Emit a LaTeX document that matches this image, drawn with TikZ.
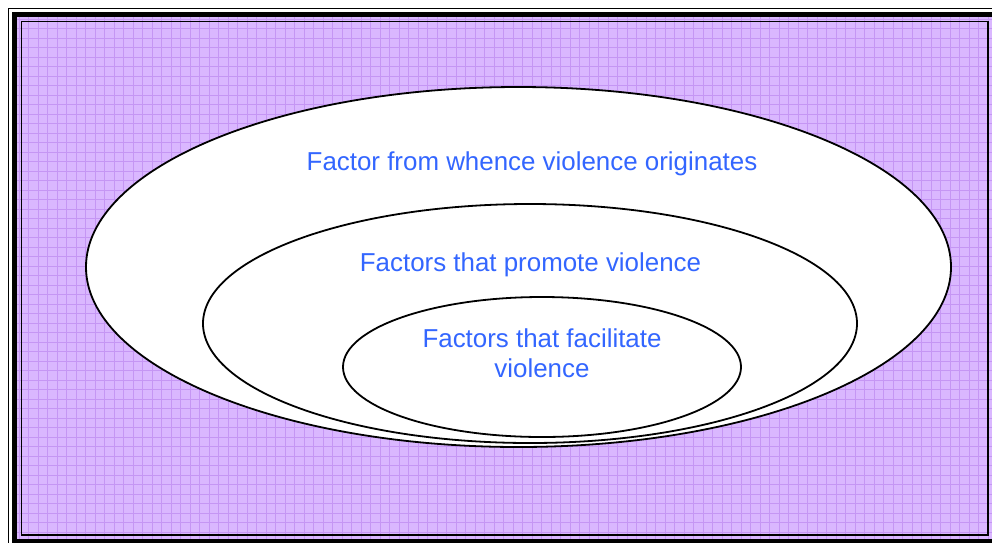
\documentclass[tikz,border=0pt]{standalone}
\usepackage{fontspec}
\setmainfont{Liberation Sans}
\usetikzlibrary{shapes.geometric}
\definecolor{lilac}{RGB}{218,183,255}
\definecolor{lilacline}{RGB}{197,150,244}
\definecolor{labelblue}{RGB}{51,102,255}
\tikzset{
  ring/.style={ellipse, draw=black, fill=white, line width=1.8pt, inner sep=0pt},
  label/.style={text=labelblue, font=\fontsize{25.9}{30}\selectfont, anchor=base, inner sep=0pt},
}
\begin{document}
\begin{tikzpicture}[x=1pt, y=-1pt]
  \useasboundingbox (0,0) rectangle (992,542);
  % page frame: thin outer line, thick band, shaded panel with a thin inner line
  \fill[white] (0,0) rectangle (992,542);
  \draw[line width=1.5pt] (8.5,8.5) rectangle (1005,555);
  \fill[lilac] (17,17) rectangle (992,542);
  \begin{scope}
    \clip (17,17) rectangle (992,542);
    \draw[lilacline, line width=0.9pt] (17,17) grid[step=9.5pt] (992,542);
  \end{scope}
  \draw[line width=5pt] (14.5,14.5) rectangle (994.5,541);
  \draw[line width=1.5pt] (21.5,21.5) rectangle (988,535);
  % nested ellipses
  \node[ring, minimum width=865pt, minimum height=360pt] (outer) at (518.5,267) {};
  \node[ring, minimum width=654pt, minimum height=239pt] (middle) at (530,323.5) {};
  \node[ring, minimum width=398pt, minimum height=140pt] (inner) at (542,367) {};
  % labels
  \node[label] (origin) at (532,170) {Factor from whence violence originates};
  \node[label] (promote) at (530.5,271) {Factors that promote violence};
  \node[label] (facilitate) at (542,347) {Factors that facilitate};
  \node[label] (facilitate2) at (542,377) {violence};
\end{tikzpicture}
\end{document}
